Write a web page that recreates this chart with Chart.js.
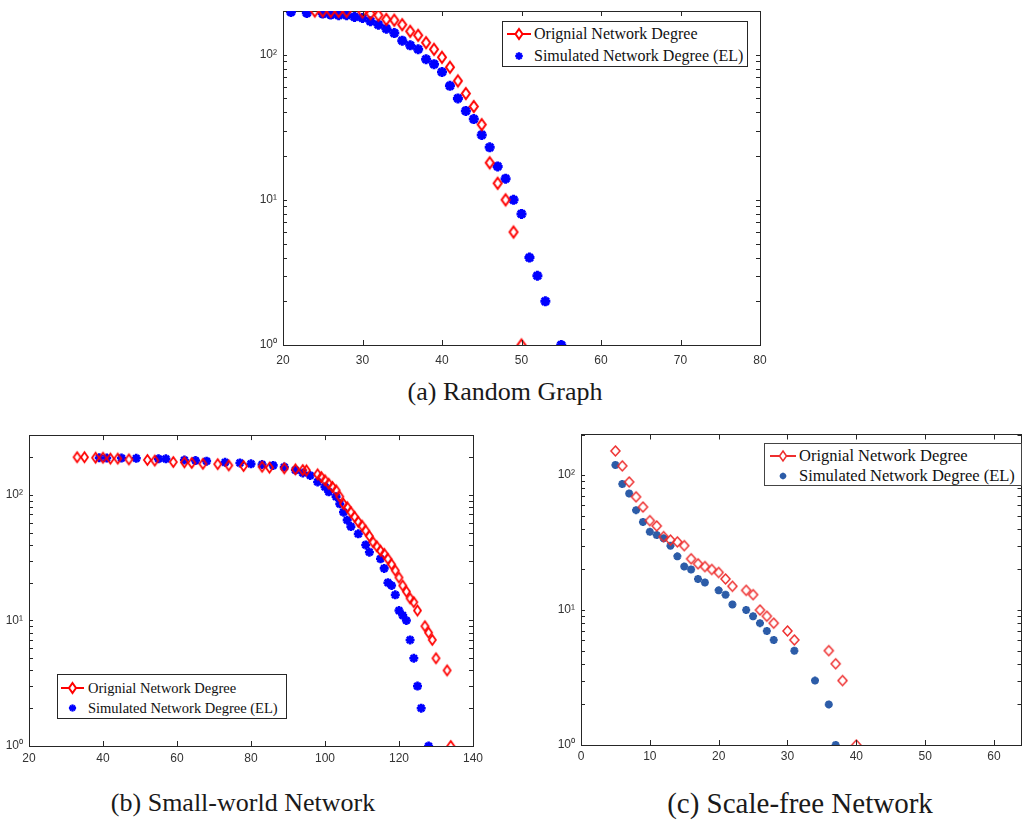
<!DOCTYPE html>
<html>
<head>
<meta charset="utf-8">
<script src="https://cdn.jsdelivr.net/npm/chart.js@4.4.1/dist/chart.umd.min.js"></script>
<style>
  html, body { margin: 0; padding: 0; background: #fff; }
  #page { position: relative; width: 1029px; height: 820px; overflow: hidden; }
  canvas { position: absolute; }
  .legend {
    position: absolute;
    box-sizing: border-box;
    border: 1px solid #262626;
    background: #fff;
    font-family: 'Liberation Serif', 'Times New Roman', serif;
    color: #111;
  }
  .legend .row { position: absolute; left: 0; height: 20px; line-height: 20px; white-space: nowrap; }
  .legend .mk { position: absolute; top: 2px; }
  .legend .txt { position: absolute; top: 0; }
  .caption {
    position: absolute;
    font-family: 'Liberation Serif', 'Times New Roman', serif;
    font-size: 26px;
    color: #1a1a1a;
    white-space: nowrap;
    transform: translate(-50%, -50%);
  }
</style>
</head>
<body>
<div id="page">
  <canvas id="chart-a" width="542" height="372" style="left:233px; top:3px;"></canvas>
  <canvas id="chart-b" width="488" height="348" style="left:0px; top:428px;"></canvas>
  <canvas id="chart-c" width="487" height="347" style="left:541px; top:428px;"></canvas>

  <div class="legend" id="legend-a" style="left:502px; top:21px; width:246px; height:46px; font-size:16px;"></div>
  <div class="legend" id="legend-b" style="left:57px; top:674px; width:230px; height:45px; font-size:14.5px;"></div>
  <div class="legend" id="legend-c" style="left:764px; top:443px; width:258px; height:43px; font-size:16.5px; border-color:#444;"></div>

  <div class="caption" style="left:505px; top:392px;">(a) Random Graph</div>
  <div class="caption" style="left:243px; top:803px;">(b) Small-world Network</div>
  <div class="caption" style="left:800px; top:803px; font-size:29px;">(c) Scale-free Network</div>
</div>

<script>
/* ---- data: degree (x) and node count (y) ---- */

// (a) random graph
const A_ORIG_DEG = [24, 25, 26, 27, 28, 30, 31, 32, 33, 34, 35, 36, 37, 38, 39, 40, 41, 42, 43, 44, 45, 46, 47, 48, 49, 50];
const A_ORIG_CNT = [200, 200, 199, 199, 199, 197, 192, 187, 175, 173, 161, 145, 136, 121, 109, 96, 82, 66, 54, 44, 33, 18, 13, 10, 6, 1];
const A_SIM_DEG  = [21, 23, 25, 26, 27, 28, 29, 30, 31, 32, 33, 34, 35, 36, 37, 38, 39, 40, 41, 42, 43, 44, 45, 46, 47, 48, 49, 50, 51, 52, 53, 55];
const A_SIM_CNT  = [197, 194, 192, 189, 187, 187, 182, 179, 170, 161, 151, 141, 125, 116, 109, 93, 86, 76, 61, 50, 41, 36, 28, 23, 17, 14, 10, 8, 4, 3, 2, 1];

// (b) small-world network
const B_ORIG_DEG = [33, 35, 38, 40, 42, 44, 47, 52, 54, 59, 62, 64, 67, 71, 74, 78, 83, 85, 89, 92,
                    94, 95, 98, 99, 100, 101, 102, 103, 104, 105, 106, 107, 108, 109, 110, 111, 112, 113, 114, 115,
                    116, 117, 118, 119, 120, 121, 122, 123, 124, 125, 127, 128, 129, 130, 133, 134];
const B_ORIG_CNT = [200, 200, 198, 198, 195, 195, 192, 190, 188, 183, 182, 180, 177, 176, 172, 170, 168, 165, 163, 160,
                    158, 157, 146, 139, 131, 123, 116, 109, 97, 85, 80, 73, 67, 61, 57, 52, 47, 42, 39, 36,
                    34, 31, 28, 25, 22, 19, 17, 15, 14, 12, 9, 8, 7, 5, 4, 1];
const B_SIM_DEG  = [39, 41, 45, 49, 55, 57, 62, 65, 68, 73, 77, 80, 83, 86, 89, 92, 94, 96, 98, 100,
                    101, 103, 104, 105, 106, 107, 109, 111, 112, 115, 116, 117, 118, 119, 120, 121, 122, 123, 124, 125,
                    126, 128];
const B_SIM_CNT  = [198, 197, 197, 196, 194, 194, 190, 188, 186, 182, 180, 177, 175, 172, 167, 158, 150, 143, 127, 116,
                    106, 97, 85, 73, 63, 56, 49, 40, 35, 31, 26, 20, 19, 16, 12, 11, 10, 7, 5, 3,
                    2, 1];

// (c) scale-free network
const C_ORIG_DEG = [5, 6, 7, 8, 9, 10, 11, 12, 13, 14, 15, 16, 17, 18, 19, 20, 21, 22, 24, 25, 26, 27, 28, 30, 31, 36, 37, 38, 40];
const C_ORIG_CNT = [151, 117, 89, 69, 58, 46, 42, 35, 33, 32, 30, 24, 22, 21, 20, 19, 17, 15, 14, 13, 10, 9, 8, 7, 6, 5, 4, 3, 1];
const C_SIM_DEG  = [5, 6, 7, 8, 9, 10, 11, 12, 13, 14, 15, 16, 17, 18, 20, 21, 22, 24, 25, 26, 27, 28, 31, 34, 36, 37];
const C_SIM_CNT  = [119, 86, 73, 55, 45, 38, 36, 34, 30, 25, 21, 20, 17, 16, 14, 13, 11, 10, 9, 8, 7, 6, 5, 3, 2, 1];

// tick positions
const A_X_TICKS = [20, 30, 40, 50, 60, 70, 80];
const B_X_TICKS = [20, 40, 60, 80, 100, 120, 140];
const C_X_TICKS = [0, 10, 20, 30, 40, 50, 60];
const Y_TICKS_200 = [1, 2, 3, 4, 5, 6, 7, 8, 9, 10, 20, 30, 40, 50, 60, 70, 80, 90, 100, 200];
const Y_TICKS_300 = [1, 2, 3, 4, 5, 6, 7, 8, 9, 10, 20, 30, 40, 50, 60, 70, 80, 90, 100, 200, 300];
const DECADE_LABELS = ['10⁰', '10¹', '10²'];

const LABEL_ORIG = 'Orignial Network Degree';
const LABEL_SIM  = 'Simulated Network Degree (EL)';

const AXIS_COLOR = '#262626';

Chart.defaults.font.family = "'Liberation Sans', Arial, sans-serif";
Chart.defaults.color = '#333';


/* ---- helpers ---- */

const pts = (xs, ys) => xs.map((x, i) => ({ x: x, y: ys[i] }));

function decadeLabel(v) {
  const e = Math.round(Math.log10(v));
  return Math.abs(Math.pow(10, e) - v) < 1e-9 ? DECADE_LABELS[e] : '';
}

function setTicks(list) {
  return (scale) => { scale.ticks = list.map((v) => ({ value: v })); };
}

/* fixed axis size, and no extra room for labels hanging over the ends */
function fixSize(w, h) {
  return (s) => {
    if (w !== null) s.width = w;
    if (h !== null) s.height = h;
    s.paddingLeft = s.paddingRight = s.paddingTop = s.paddingBottom = 0;
  };
}

/* matlab-style hollow diamond (taller than wide), used as a point image */
function diamondMarker(w, h, color, lw) {
  const pad = Math.ceil(lw) + 1;
  const c = document.createElement('canvas');
  c.width = w + pad * 2;
  c.height = h + pad * 2;
  const g = c.getContext('2d');
  const cx = c.width / 2, cy = c.height / 2;
  g.strokeStyle = color;
  g.lineWidth = lw;
  g.beginPath();
  g.moveTo(cx, cy - h / 2);
  g.lineTo(cx + w / 2, cy);
  g.lineTo(cx, cy + h / 2);
  g.lineTo(cx - w / 2, cy);
  g.closePath();
  g.stroke();
  return c;
}

/* inward tick marks on all four sides, drawn from each scale's ticks */
const inwardTicks = {
  id: 'inwardTicks',
  afterDatasetsDraw(chart, args, opts) {
    const { ctx, chartArea: a } = chart;
    ctx.save();
    ctx.strokeStyle = AXIS_COLOR;
    ctx.lineWidth = 1;
    ctx.beginPath();
    Object.values(chart.scales).forEach((s) => {
      s.ticks.forEach((t) => {
        const p = Math.round(s.getPixelForValue(t.value)) + 0.5;
        if (s.isHorizontal()) {
          const y0 = s.position === 'bottom' ? a.bottom : a.top;
          const dir = s.position === 'bottom' ? -1 : 1;
          ctx.moveTo(p, y0);
          ctx.lineTo(p, y0 + dir * opts.xLen);
        } else {
          const x0 = s.position === 'left' ? a.left : a.right;
          const dir = s.position === 'left' ? 1 : -1;
          ctx.moveTo(x0, p);
          ctx.lineTo(x0 + dir * opts.yLen, p);
        }
      });
    });
    ctx.stroke();
    ctx.restore();
  },
};

function axis(extra) {
  return Object.assign({
    border: { display: true, color: AXIS_COLOR, width: 1 },
    grid: { display: false, drawTicks: false },
  }, extra);
}

function buildChart(id, p) {
  new Chart(document.getElementById(id), {
    type: 'scatter',
    data: {
      datasets: [
        {
          label: LABEL_ORIG,
          data: pts(p.origDeg, p.origCnt),
          pointStyle: diamondMarker(p.diaW, p.diaH, p.red, p.diaLw),
          pointRadius: 5,
          borderColor: p.red,
          backgroundColor: 'rgba(255,255,255,0)',
          xAxisID: 'x', yAxisID: 'y',
        },
        {
          label: LABEL_SIM,
          data: pts(p.simDeg, p.simCnt),
          pointStyle: 'star',
          pointRadius: p.starR,
          pointBorderWidth: p.starW,
          borderColor: p.blue,
          backgroundColor: p.blue,
          xAxisID: 'x', yAxisID: 'y',
        },
      ],
    },
    plugins: [inwardTicks],
    options: {
      responsive: false,
      animation: false,
      events: [],
      layout: { padding: { top: 5, right: p.padR, left: 0, bottom: 0 } },
      plugins: {
        legend: { display: false },
        tooltip: { enabled: false },
        inwardTicks: { xLen: 5, yLen: 4 },
      },
      scales: {
        x: axis({
          type: 'linear', axis: 'x', position: 'bottom', min: p.xMin, max: p.xMax,
          afterBuildTicks: setTicks(p.xTicks),
          afterFit: fixSize(null, 30),
          ticks: { autoSkip: false, maxRotation: 0, padding: p.xPad, font: { size: 12 }, color: '#333' },
        }),
        x2: axis({
          type: 'linear', axis: 'x', position: 'top', min: p.xMin, max: p.xMax,
          afterBuildTicks: setTicks(p.xTicks),
          afterFit: fixSize(null, 0),
          ticks: { display: false },
        }),
        y: axis({
          type: 'logarithmic', axis: 'y', position: 'left', min: 1, max: p.yMax,
          afterBuildTicks: setTicks(p.yTicks),
          afterFit: fixSize(p.yW, null),
          ticks: { autoSkip: false, padding: 6, font: { size: 12 }, color: '#333', callback: decadeLabel },
        }),
        y2: axis({
          type: 'logarithmic', axis: 'y', position: 'right', min: 1, max: p.yMax,
          afterBuildTicks: setTicks(p.yTicks),
          afterFit: fixSize(0, null),
          ticks: { display: false },
        }),
      },
    },
  });
}


/* ---- legends (html boxes inside each plot) ---- */

function diamondSvg(color, w, dw, dh, lw) {
  const c = w / 2;
  return `<svg width="${w}" height="16" viewBox="0 0 ${w} 16">
    <line x1="0" y1="8" x2="${w}" y2="8" stroke="${color}" stroke-width="2"/>
    <polygon points="${c},${8 - dh / 2} ${c + dw / 2},8 ${c},${8 + dh / 2} ${c - dw / 2},8" fill="#fff" stroke="${color}" stroke-width="${lw}"/>
  </svg>`;
}

function starSvg(color, w, r) {
  const c = w / 2, d = r * 0.707;
  return `<svg width="${w}" height="16" viewBox="0 0 ${w} 16" stroke="${color}" stroke-width="2.2">
    <line x1="${c - r}" y1="8" x2="${c + r}" y2="8"/>
    <line x1="${c}" y1="${8 - r}" x2="${c}" y2="${8 + r}"/>
    <line x1="${c - d}" y1="${8 - d}" x2="${c + d}" y2="${8 + d}"/>
    <line x1="${c - d}" y1="${8 + d}" x2="${c + d}" y2="${8 - d}"/>
  </svg>`;
}

function makeLegend(id, p) {
  document.getElementById(id).innerHTML = `
    <div class="row" style="top:${p.row1 - 10}px">
      <span class="mk" style="left:${p.sx}px">${diamondSvg(p.red, p.sw, 7, 10, p.lw)}</span>
      <span class="txt" style="left:${p.tx}px">${LABEL_ORIG}</span>
    </div>
    <div class="row" style="top:${p.row2 - 10}px">
      <span class="mk" style="left:${p.sx}px">${starSvg(p.blue, p.sw, p.r)}</span>
      <span class="txt" style="left:${p.tx}px">${LABEL_SIM}</span>
    </div>`;
}


/* ---- build ---- */

buildChart('chart-a', {
  origDeg: A_ORIG_DEG, origCnt: A_ORIG_CNT, simDeg: A_SIM_DEG, simCnt: A_SIM_CNT,
  xMin: 20, xMax: 80, xTicks: A_X_TICKS, xPad: 8,
  yMax: 200, yTicks: Y_TICKS_200, yW: 50, padR: 15,
  red: '#ff0000', blue: '#0000ff', diaW: 8, diaH: 11, diaLw: 2, starR: 5, starW: 3,
});

buildChart('chart-b', {
  origDeg: B_ORIG_DEG, origCnt: B_ORIG_CNT, simDeg: B_SIM_DEG, simCnt: B_SIM_CNT,
  xMin: 20, xMax: 140, xTicks: B_X_TICKS, xPad: 5,
  yMax: 300, yTicks: Y_TICKS_300, yW: 29, padR: 15,
  red: '#ff0000', blue: '#0000ff', diaW: 7, diaH: 10, diaLw: 1.8, starR: 4.5, starW: 2.6,
});

buildChart('chart-c', {
  origDeg: C_ORIG_DEG, origCnt: C_ORIG_CNT, simDeg: C_SIM_DEG, simCnt: C_SIM_CNT,
  xMin: 0, xMax: 64, xTicks: C_X_TICKS, xPad: 4,
  yMax: 200, yTicks: Y_TICKS_200, yW: 40, padR: 1,
  red: '#ee2e2e', blue: '#2c5ca8', diaW: 9, diaH: 10, diaLw: 1.5, starR: 4, starW: 2.5,
});

makeLegend('legend-a', { row1: 12, row2: 34, sx: 4, sw: 24, lw: 2, r: 3.8, tx: 31, red: '#ff0000', blue: '#0000ff' });
makeLegend('legend-b', { row1: 13, row2: 33, sx: 3, sw: 23, lw: 2, r: 3.6, tx: 30, red: '#ff0000', blue: '#0000ff' });
makeLegend('legend-c', { row1: 12, row2: 32, sx: 5, sw: 26, lw: 1.5, r: 3.3, tx: 34, red: '#ee2e2e', blue: '#2c5ca8' });
</script>
</body>
</html>
